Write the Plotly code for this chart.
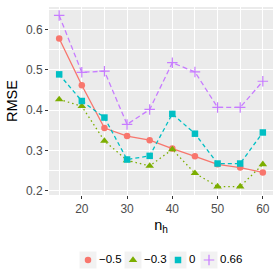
import plotly.graph_objects as go

n_h = [15, 20, 25, 30, 35, 40, 45, 50, 55, 60]
series_names = ["\u22120.5", "\u22120.3", "0", "0.66"]
rmse_m05 = [0.578, 0.462, 0.356, 0.336, 0.326, 0.305, 0.286, 0.266, 0.258, 0.246]
rmse_m03 = [0.427, 0.410, 0.324, 0.276, 0.262, 0.303, 0.244, 0.211, 0.211, 0.266]
rmse_0 = [0.489, 0.423, 0.382, 0.278, 0.287, 0.391, 0.342, 0.268, 0.268, 0.345]
rmse_066 = [0.635, 0.494, 0.497, 0.365, 0.402, 0.518, 0.495, 0.407, 0.407, 0.472]
x_ticks = [20, 30, 40, 50, 60]
y_ticks = [0.2, 0.3, 0.4, 0.5, 0.6]

all_series = [rmse_m05, rmse_m03, rmse_0, rmse_066]
colors = ["#F8766D", "#7CAE00", "#00BFC4", "#C77CFF"]
dashes = ["solid", "1.5px,3px", "4px,3px", "5px,3px"]
symbols = ["circle", "triangle-up", "square", "cross-thin"]
sizes = [6.5, 7.5, 6.5, 7.5]
edge_w = [0, 0, 0, 1.2]

W = H = 280
P_L, P_R, P_T, P_B = 49, 273, 7, 195  # panel edges in pixels

fig = go.Figure()
for name, ys, c, d in zip(series_names, all_series, colors, dashes):
    fig.add_trace(go.Scatter(x=n_h, y=ys, mode="lines", line=dict(color=c, dash=d, width=1.3),
                             showlegend=False, hoverinfo="skip"))
for name, ys, c, s, sz, ew in zip(series_names, all_series, colors, symbols, sizes, edge_w):
    fig.add_trace(go.Scatter(x=n_h, y=ys, mode="markers", name=name, showlegend=False,
                             marker=dict(color=c, symbol=s, size=sz,
                                         line=dict(color=c, width=ew))))

# ggplot-style legend drawn in a full-figure helper subplot whose units are pixels
key_x = [88, 133, 178, 209]
key_y = 260
fig.add_trace(go.Scatter(x=key_x, y=[key_y] * 4, mode="markers", xaxis="x2", yaxis="y2",
                         showlegend=False, hoverinfo="skip",
                         marker=dict(symbol="square", size=17, color="#F2F2F2")))
for kx, name, c, s, sz, ew in zip(key_x, series_names, colors, symbols, sizes, edge_w):
    fig.add_trace(go.Scatter(x=[kx], y=[key_y], mode="markers", xaxis="x2", yaxis="y2",
                             showlegend=False, hoverinfo="skip",
                             marker=dict(color=c, symbol=s, size=sz, line=dict(color=c, width=ew))))
fig.add_trace(go.Scatter(x=[k + 11 for k in key_x], y=[key_y] * 4, mode="text", text=series_names,
                         textposition="middle right", xaxis="x2", yaxis="y2",
                         showlegend=False, hoverinfo="skip",
                         textfont=dict(size=11.5, color="black")))

font = "Liberation Sans, Arial, sans-serif"
fig.update_layout(
    width=W, height=H,
    margin=dict(l=0, r=0, t=0, b=0, autoexpand=False),
    paper_bgcolor="white", plot_bgcolor="rgba(0,0,0,0)",
    font=dict(family=font, color="black"),
    showlegend=False,
    shapes=[dict(type="rect", xref="x domain", yref="y domain", x0=0, x1=1, y0=0, y1=1,
                 fillcolor="#EBEBEB", line=dict(width=0), layer="below")],
    xaxis=dict(
        domain=[P_L / W, P_R / W], anchor="y",
        range=[12.75, 62.25], tickvals=x_ticks, showgrid=True, gridcolor="white", gridwidth=1.1,
        minor=dict(tickvals=[15, 25, 35, 45, 55], showgrid=True, gridcolor="white", gridwidth=0.5),
        ticks="outside", ticklen=3, tickcolor="#333333", tickfont=dict(size=12, color="#4D4D4D"),
        zeroline=False, showline=False, automargin=False, fixedrange=True,
        title=dict(text="n<sub>h</sub>", font=dict(size=14.5), standoff=4),
    ),
    yaxis=dict(
        domain=[1 - P_B / H, 1 - P_T / H], anchor="x",
        range=[0.19, 0.656], tickvals=y_ticks, tickformat=".1f", showgrid=True, gridcolor="white",
        gridwidth=1.1,
        minor=dict(tickvals=[0.25, 0.35, 0.45, 0.55, 0.65], showgrid=True, gridcolor="white",
                   gridwidth=0.5),
        ticks="outside", ticklen=3, tickcolor="#333333", tickfont=dict(size=12, color="#4D4D4D"),
        zeroline=False, showline=False, automargin=False, fixedrange=True,
        title=dict(text="RMSE", font=dict(size=14.5), standoff=4),
    ),
    xaxis2=dict(domain=[0, 1], anchor="y2", range=[0, W], visible=False, fixedrange=True),
    yaxis2=dict(domain=[0, 1], anchor="x2", range=[H, 0], visible=False, fixedrange=True),
)
fig.write_html("out.html", config={"displayModeBar": False},
               post_script="document.body.style.margin='0';")
